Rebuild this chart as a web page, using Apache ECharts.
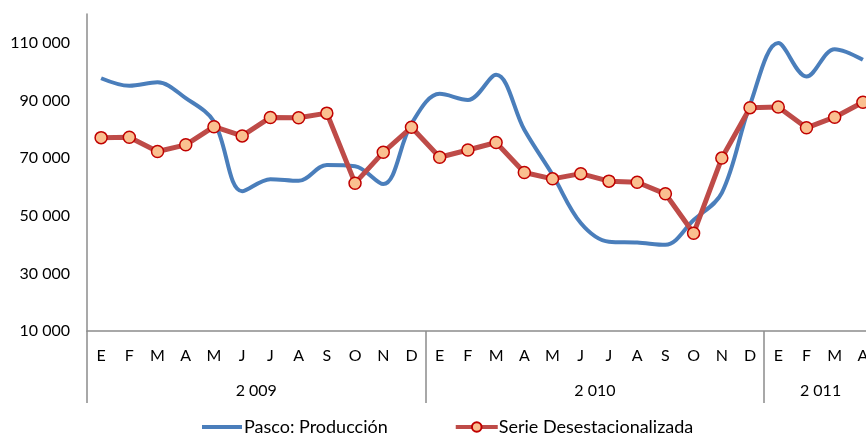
<!DOCTYPE html>
<html>
<head>
<meta charset="utf-8">
<script src="https://cdn.jsdelivr.net/npm/echarts@6/dist/echarts.min.js"></script>
<style>
  html, body { margin: 0; padding: 0; background: #fff; }
  #chart { width: 866px; height: 439px; }
</style>
</head>
<body>
<div id="chart"></div>
<script>
// meses (E..D 2009, E..D 2010, E..A 2011)
var months = ['E','F','M','A','M','J','J','A','S','O','N','D',
              'E','F','M','A','M','J','J','A','S','O','N','D',
              'E','F','M','A'];
var years = ['2 009', '2 010', '2 011'];
var yearMid = [6, 18, 26];     // centro de cada año, en meses
var yearEdge = [0, 12, 24];    // separadores

// Pasco: Producción
var produccion = [97700, 95100, 96300, 90800, 82700, 58500, 62700, 62100, 67600, 67200, 61000, 81900,
                  92300, 90200, 98900, 79800, 64200, 47500, 41000, 40700, 39900, 48500, 57900, 88500,
                  109900, 98300, 107800, 104100];
// Serie Desestacionalizada
var desest = [77100, 77250, 72300, 74600, 80900, 77700, 84100, 84000, 85600, 61300, 72000, 80700,
              70300, 72800, 75400, 65000, 62800, 64600, 62000, 61600, 57600, 43900, 70000, 87500,
              87700, 80500, 84200, 89400];

var font = 'Lato, "Open Sans", sans-serif';
var gray = '#8c8c8c';

// icono de leyenda: barra fina (con puntos extremos para fijar la caja)
var barIcon = 'path://M0,0L40,0L40,0.01L0,0.01Z M0,4L40,4L40,8L0,8Z M0,11.99L40,11.99L40,12L0,12Z';

var chart = echarts.init(document.getElementById('chart'));
chart.setOption({
  backgroundColor: '#fff',
  animation: false,
  textStyle: { fontFamily: font },
  grid: { left: 87, width: 790, top: 14, bottom: 108, outerBoundsMode: 'none', containLabel: false },
  legend: {
    top: 413,
    left: 197,
    itemGap: 66,
    itemWidth: 42,
    itemHeight: 12,
    lineStyle: { width: 4 },
    textStyle: { fontSize: 18, color: '#000', fontFamily: font, padding: [0, 0, 0, -4] },
    data: [
      { name: 'Pasco: Producción', icon: barIcon, itemStyle: { color: '#4a7ebb' } },
      'Serie Desestacionalizada'
    ]
  },
  xAxis: [{
    type: 'category',
    data: months,
    boundaryGap: true,
    axisLine: { lineStyle: { color: gray, width: 1.5 } },
    axisTick: { show: false },
    axisLabel: { color: '#000', fontSize: 16, margin: 17, interval: 0 }
  }, {
    // fila de años
    type: 'value',
    position: 'bottom',
    min: 0,
    max: 28,
    axisLine: { show: false },
    splitLine: { show: false },
    axisTick: {
      show: true,
      customValues: yearEdge,
      length: 72,
      lineStyle: { color: gray, width: 1.5 }
    },
    axisLabel: {
      customValues: yearMid,
      color: '#000',
      fontSize: 16,
      margin: 52,
      formatter: function (v) { return years[yearMid.indexOf(v)]; }
    }
  }],
  yAxis: {
    type: 'value',
    min: 10000,
    max: 120000,
    interval: 20000,
    axisLine: { show: true, lineStyle: { color: gray, width: 1.5 } },
    axisTick: { show: false },
    splitLine: { show: false },
    axisLabel: {
      color: '#000',
      fontSize: 16,
      margin: 17,
      showMaxLabel: false,
      formatter: function (v) { return String(v).replace(/\B(?=(\d{3})+(?!\d))/g, ' '); }
    }
  },
  series: [{
    name: 'Pasco: Producción',
    type: 'line',
    data: produccion,
    smooth: 0.35,
    showSymbol: false,
    symbol: 'none',
    lineStyle: { color: '#4a7ebb', width: 4 },
    itemStyle: { color: '#4a7ebb' },
    z: 2
  }, {
    name: 'Serie Desestacionalizada',
    type: 'line',
    data: desest,
    symbol: 'circle',
    symbolSize: 12,
    lineStyle: { color: '#be4b48', width: 5 },
    itemStyle: { color: '#fac090', borderColor: '#c00000', borderWidth: 1.5 },
    z: 3
  }]
});
</script>
</body>
</html>
